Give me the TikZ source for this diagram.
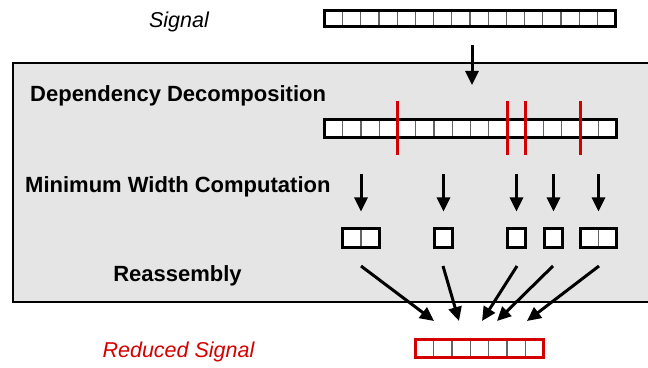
\documentclass[tikz,border=0pt]{standalone}
\usepackage{fontspec}
\setmainfont{Liberation Sans}
\usetikzlibrary{arrows.meta}
\definecolor{boxgray}{RGB}{229,229,229}
\definecolor{sigred}{RGB}{212,0,0}
\definecolor{celldiv}{RGB}{100,100,100}
\tikzset{
  lbl/.style={inner sep=0pt, font=\fontsize{22}{24}\selectfont\bfseries},
  ilbl/.style={inner sep=0pt, font=\fontsize{21.5}{24}\selectfont\itshape},
  bar/.style={draw=black, fill=white, line width=3.4pt, inner sep=0pt, outer sep=0pt, minimum height=18pt},
  redbar/.style={bar, draw=sigred},
  cell/.style={draw=celldiv, line width=1.2pt},
  cut/.style={draw=sigred, line width=3pt},
  arr/.style={draw=black, line width=3pt, -{Triangle[width=13pt,length=14pt]}},
}
\begin{document}
\begin{tikzpicture}[x=1pt,y=1pt]
\useasboundingbox (0,0) rectangle (648,367);
% gray panel
\fill[boxgray] (12.5,65) rectangle (649,303.5);
\draw[line width=2pt] (649,303.5) -- (12.5,303.5) -- (12.5,65) -- (649,65);
% labels
\node[ilbl, anchor=base] (lsig) at (179,339) {Signal};
\node[lbl, anchor=base west] (ldep) at (30,265) {Dependency Decomposition};
\node[lbl, anchor=base west] (lmin) at (25,174) {Minimum Width Computation};
\node[lbl, anchor=base] (lre) at (177.5,85) {Reassembly};
\node[ilbl, anchor=base, text=sigred] (lred) at (178.5,10) {Reduced Signal};
% signal bar
\node[bar, minimum width=291pt, minimum height=16pt] (sig) at (470,348.5) {};
\foreach \k in {1,...,15}
  \draw[cell] ([xshift=\k*291/16, yshift=1.7]sig.south west) -- ([xshift=\k*291/16, yshift=-1.7]sig.north west);
% decomposition bar
\node[bar, minimum width=292pt] (dep) at (470.5,238.5) {};
\foreach \k in {1,...,15}
  \draw[cell] ([xshift=\k*292/16, yshift=1.7]dep.south west) -- ([xshift=\k*292/16, yshift=-1.7]dep.north west);
\foreach \k in {4,10,11,14}
  \draw[cut] ([xshift=\k*292/16, yshift=-26.5]dep.west) -- ([xshift=\k*292/16, yshift=27.5]dep.west);
% small boxes
\node[bar, minimum width=37pt, minimum height=19pt] (b1) at (361,129) {};
\draw[cell] ([yshift=1.7]b1.south) -- ([yshift=-1.7]b1.north);
\node[bar, minimum width=18.5pt, minimum height=19pt] (b2) at (443.5,129) {};
\node[bar, minimum width=18.5pt, minimum height=19pt] (b3) at (516.5,129) {};
\node[bar, minimum width=18.5pt, minimum height=19pt] (b4) at (553.5,129) {};
\node[bar, minimum width=36pt, minimum height=19pt] (b5) at (598.5,129) {};
\draw[cell] ([yshift=1.7]b5.south) -- ([yshift=-1.7]b5.north);
% reduced bar
\node[redbar, minimum width=128pt] (red) at (479.5,18.5) {};
\foreach \k in {1,...,6}
  \draw[cell] ([xshift=\k*128/7, yshift=1.7]red.south west) -- ([xshift=\k*128/7, yshift=-1.7]red.north west);
% arrow coordinates
\coordinate (s0) at (472,322);
\coordinate (e0) at (472,282);
\foreach \i/\x in {1/361,2/443.5,3/516.5,4/553.5,5/598.5}
  \coordinate (t\i) at (\x,193);
\coordinate (s1) at (361,101);   \coordinate (e1) at (434,46);
\coordinate (s2) at (443,101);   \coordinate (e2) at (459,46);
\coordinate (s3) at (517,101);   \coordinate (e3) at (482,46);
\coordinate (s4) at (553,101);   \coordinate (e4) at (497,46);
\coordinate (s5) at (599,101);   \coordinate (e5) at (527,46);
% arrows
\draw[arr] (s0) -- (e0);
\foreach \i in {1,...,5}
  \draw[arr, shorten >=17pt] (t\i) -- (b\i.north);
\foreach \i in {1,...,5}
  \draw[arr] (s\i) -- (e\i);
\end{tikzpicture}
\end{document}
